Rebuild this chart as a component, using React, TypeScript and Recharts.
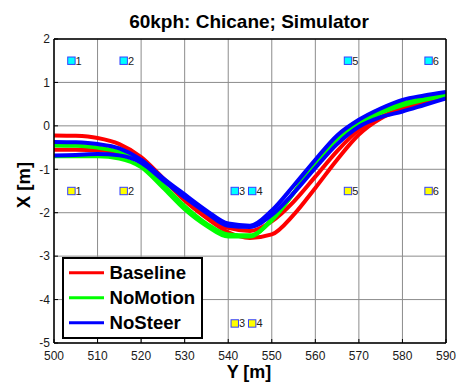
import React from 'react';
import { ComposedChart, Line, Scatter, XAxis, YAxis, CartesianGrid, Legend } from 'recharts';

const FONT = '"Liberation Sans", Arial, Helvetica, sans-serif';

// horizontal axis: "Y [m]" positions along the track
const trackY = [500, 505, 510, 515, 520, 525, 530, 535, 540, 545, 550, 555, 560, 565, 570, 575, 580, 585, 590];

// lateral position "X [m]" for each run
const baselineRun1 = [-0.22, -0.23, -0.28, -0.42, -0.72, -1.2, -1.68, -2.05, -2.35, -2.42, -2.2, -1.75, -1.17, -0.58, -0.09, 0.2, 0.4, 0.55, 0.67];
const baselineRun2 = [-0.55, -0.55, -0.56, -0.62, -0.8, -1.22, -1.72, -2.12, -2.45, -2.58, -2.5, -2.05, -1.43, -0.78, -0.2, 0.17, 0.38, 0.55, 0.66];
const noMotionRun1 = [-0.45, -0.46, -0.5, -0.6, -0.85, -1.35, -1.85, -2.25, -2.5, -2.52, -2.18, -1.55, -0.82, -0.25, 0.12, 0.36, 0.52, 0.63, 0.72];
const noMotionRun2 = [-0.7, -0.7, -0.7, -0.75, -0.95, -1.42, -1.92, -2.3, -2.55, -2.55, -2.15, -1.55, -0.88, -0.3, 0.05, 0.3, 0.47, 0.6, 0.7];
const noSteerRun1 = [-0.37, -0.38, -0.42, -0.52, -0.78, -1.2, -1.58, -1.95, -2.25, -2.3, -1.95, -1.38, -0.78, -0.22, 0.14, 0.4, 0.6, 0.7, 0.78];
const noSteerRun2 = [-0.68, -0.67, -0.65, -0.68, -0.85, -1.25, -1.65, -2.0, -2.3, -2.33, -2.05, -1.55, -0.97, -0.42, -0.02, 0.2, 0.33, 0.48, 0.63];

// cone markers
const markerLabels = ['1', '2', '3', '4', '5', '6'];
const cyanMarkerTrackY = [504, 516, 541.5, 545.5, 567.5, 586];
const cyanMarkerLateralX = [1.5, 1.5, -1.5, -1.5, 1.5, 1.5];
const yellowMarkerTrackY = [504, 516, 541.5, 545.5, 567.5, 586];
const yellowMarkerLateralX = [-1.5, -1.5, -4.55, -4.55, -1.5, -1.5];

const xTicks = [500, 510, 520, 530, 540, 550, 560, 570, 580, 590];
const yTicks = [-5, -4, -3, -2, -1, 0, 1, 2];

const seriesNames = ['Baseline', 'NoMotion', 'NoSteer'];
const seriesColors = ['#ff0000', '#00ff00', '#0000ff'];

const tableData = trackY.map((pos, i) => ({
  pos,
  b1: baselineRun1[i],
  b2: baselineRun2[i],
  m1: noMotionRun1[i],
  m2: noMotionRun2[i],
  s1: noSteerRun1[i],
  s2: noSteerRun2[i],
}));

const cyanPoints = markerLabels.map((label, i) => ({ pos: cyanMarkerTrackY[i], val: cyanMarkerLateralX[i], label }));
const yellowPoints = markerLabels.map((label, i) => ({ pos: yellowMarkerTrackY[i], val: yellowMarkerLateralX[i], label }));

const makeMarker = (fill: string) => (props: any) => {
  const { cx, cy, payload } = props;
  return (
    <g>
      <rect x={cx - 3.7} y={cy - 3.7} width={7.4} height={7.4} fill={fill} stroke="#3340ff" strokeWidth={1} />
      <text x={cx + 4.2} y={cy + 4} fontSize={11} fontFamily={FONT} fill="#222">{payload.label}</text>
    </g>
  );
};

const LegendBox = () => (
  <svg width={141} height={82} style={{ display: 'block' }}>
    <rect x={1} y={1} width={139} height={80} fill="#fff" stroke="#000" strokeWidth={2} />
    {seriesNames.map((name, i) => (
      <g key={name}>
        <line x1={7} x2={42} y1={15.7 + i * 25} y2={15.7 + i * 25} stroke={seriesColors[i]} strokeWidth={3} />
        <text x={47.5} y={22.2 + i * 25} fontSize={18.6} fontWeight="bold" fontFamily={FONT} fill="#000">{name}</text>
      </g>
    ))}
  </svg>
);

const lineKeys = [
  { key: 'b1', color: seriesColors[0] },
  { key: 'b2', color: seriesColors[0] },
  { key: 'm1', color: seriesColors[1] },
  { key: 'm2', color: seriesColors[1] },
  { key: 's1', color: seriesColors[2] },
  { key: 's2', color: seriesColors[2] },
];

export default function App() {
  const tickStyle = { fontSize: 12, fill: '#1a1a1a', fontFamily: FONT };
  return (
    <div style={{ position: 'absolute', left: 0, top: 0, width: 458, height: 382, background: '#fff' }}>
      <ComposedChart width={458} height={382} data={tableData} margin={{ top: 38, right: 11, bottom: 0, left: 0 }}>
        <CartesianGrid stroke="#8c8c8c" strokeWidth={1} />
        <XAxis
          type="number"
          dataKey="pos"
          domain={[500, 590]}
          ticks={xTicks}
          height={39}
          tickSize={-4}
          tickMargin={12.5}
          axisLine={{ stroke: '#000', strokeWidth: 1.5 }}
          tickLine={{ stroke: '#000' }}
          tick={tickStyle}
          allowDataOverflow
        />
        <XAxis
          xAxisId="top"
          orientation="top"
          type="number"
          dataKey="pos"
          domain={[500, 590]}
          ticks={xTicks}
          height={1}
          tickSize={-4}
          tick={false}
          axisLine={{ stroke: '#000', strokeWidth: 1.5 }}
          tickLine={{ stroke: '#000' }}
          allowDataOverflow
        />
        <YAxis
          type="number"
          domain={[-5, 2]}
          ticks={yTicks}
          width={54}
          tickSize={-4}
          tickMargin={8}
          axisLine={{ stroke: '#000', strokeWidth: 1.5 }}
          tickLine={{ stroke: '#000' }}
          tick={tickStyle}
          allowDataOverflow
        />
        <YAxis
          yAxisId="right"
          orientation="right"
          type="number"
          domain={[-5, 2]}
          ticks={yTicks}
          width={1}
          tickSize={-4}
          tick={false}
          axisLine={{ stroke: '#000', strokeWidth: 1.5 }}
          tickLine={{ stroke: '#000' }}
          allowDataOverflow
        />
        {lineKeys.map((l) => (
          <Line
            key={l.key}
            type="monotone"
            dataKey={l.key}
            stroke={l.color}
            strokeWidth={4}
            dot={false}
            activeDot={false}
            isAnimationActive={false}
          />
        ))}
        <Scatter data={cyanPoints} dataKey="val" shape={makeMarker('#00ffff')} isAnimationActive={false} />
        <Scatter data={yellowPoints} dataKey="val" shape={makeMarker('#ffff00')} isAnimationActive={false} />
        <Legend
          layout="horizontal"
          verticalAlign="middle"
          align="center"
          content={() => <LegendBox />}
          wrapperStyle={{ left: 62, top: 257, width: 141, height: 82 }}
        />
      </ComposedChart>
      <svg width={458} height={382} style={{ position: 'absolute', left: 0, top: 0, pointerEvents: 'none' }}>
        <text x={249} y={28} textAnchor="middle" fontSize={19} fontWeight="bold" fontFamily={FONT} fill="#000">
          60kph: Chicane; Simulator
        </text>
        <text x={249} y={378} textAnchor="middle" fontSize={18} fontWeight="bold" fontFamily={FONT} fill="#000">
          Y [m]
        </text>
        <text
          x={30}
          y={185}
          textAnchor="middle"
          fontSize={18.5}
          fontWeight="bold"
          fontFamily={FONT}
          fill="#000"
          transform="rotate(-90 30 185)"
        >
          X [m]
        </text>
      </svg>
    </div>
  );
}
